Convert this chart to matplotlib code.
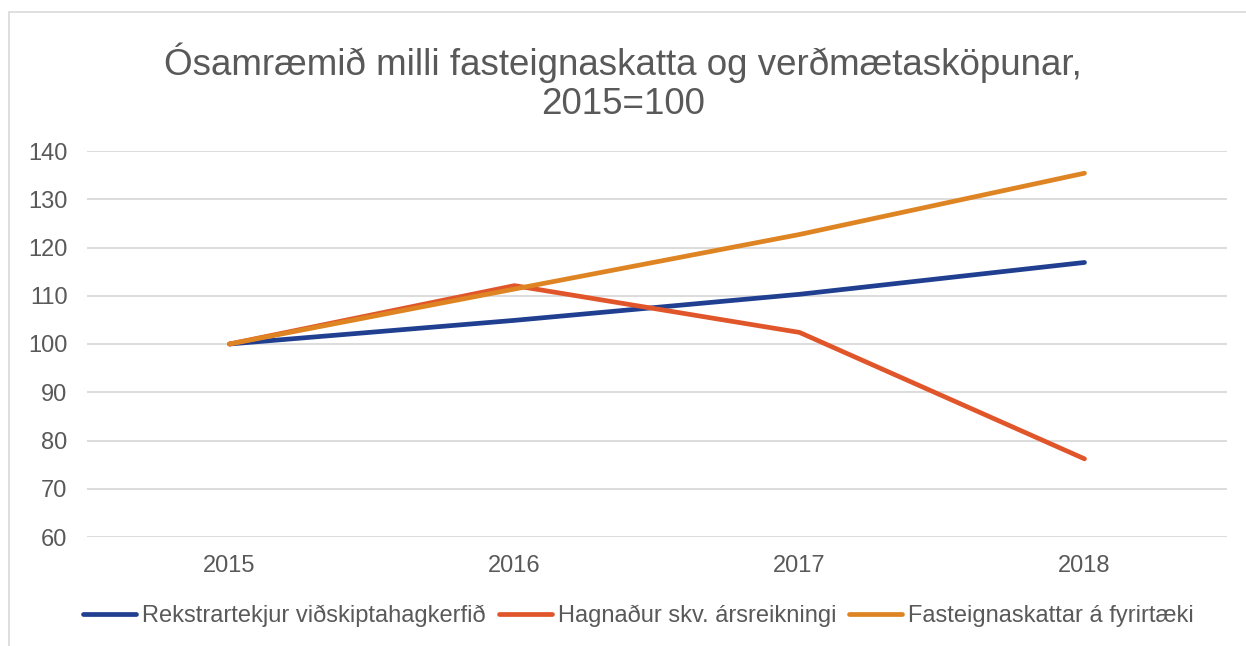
import matplotlib.pyplot as plt
from matplotlib.patches import Rectangle

plt.rcParams['font.family'] = ['Liberation Sans', 'DejaVu Sans']

years = ['2015', '2016', '2017', '2018']
rekstrartekjur = [100, 104.9, 110.3, 116.9]
hagnadur = [100, 112.1, 102.4, 76.2]
fasteignaskattar = [100, 111.4, 122.7, 135.4]

labels = ['Rekstrartekjur viðskiptahagkerfið',
          'Hagnaður skv. ársreikningi',
          'Fasteignaskattar á fyrirtæki']
colors = ['#203F90', '#E0562A', '#DE8423']
txt = '#595959'

fig = plt.figure(figsize=(12.46, 6.46), dpi=100)
# light frame of the chart area (runs off the right/bottom edge)
fig.patches.append(Rectangle((9 / 1246, -0.1), 1.2, 1 - 12 / 646 + 0.1,
                             transform=fig.transFigure, fill=False,
                             edgecolor='#D9D9D9', linewidth=1.2))

ax = fig.add_axes([87 / 1246, 1 - 537 / 646, (1227 - 87) / 1246, (537 - 151) / 646])
x = range(len(years))
for vals, c, lab in zip([rekstrartekjur, hagnadur, fasteignaskattar], colors, labels):
    ax.plot(x, vals, color=c, linewidth=3.4, label=lab, solid_capstyle='round',
            solid_joinstyle='round')

ax.set_xlim(-0.5, 3.5)
ax.set_ylim(60, 140)
ax.set_yticks(range(60, 141, 10))
ax.set_xticks(list(x))
ax.set_xticklabels(years)
ax.grid(axis='y', color='#D9D9D9', linewidth=1.3)
ax.set_axisbelow(True)
for s in ax.spines.values():
    s.set_visible(False)
ax.tick_params(length=0, labelsize=17, colors=txt)
ax.tick_params(axis='y', pad=14)
ax.tick_params(axis='x', pad=13)

# title, two lines placed by baseline
fig.text(0.5, 1 - 75 / 646, 'Ósamræmið milli fasteignaskatta og verðmætasköpunar,',
         ha='center', va='baseline', fontsize=26.5, color=txt)
fig.text(0.5, 1 - 114 / 646, '2015=100',
         ha='center', va='baseline', fontsize=26.5, color=txt)

fig.legend(loc='center', bbox_to_anchor=(0.5125, 1 - 616 / 646), ncol=3, frameon=False,
           fontsize=17, handlelength=2.25, handletextpad=0.25, columnspacing=0.55,
           labelcolor=txt)

plt.savefig('out.png', dpi=100)
